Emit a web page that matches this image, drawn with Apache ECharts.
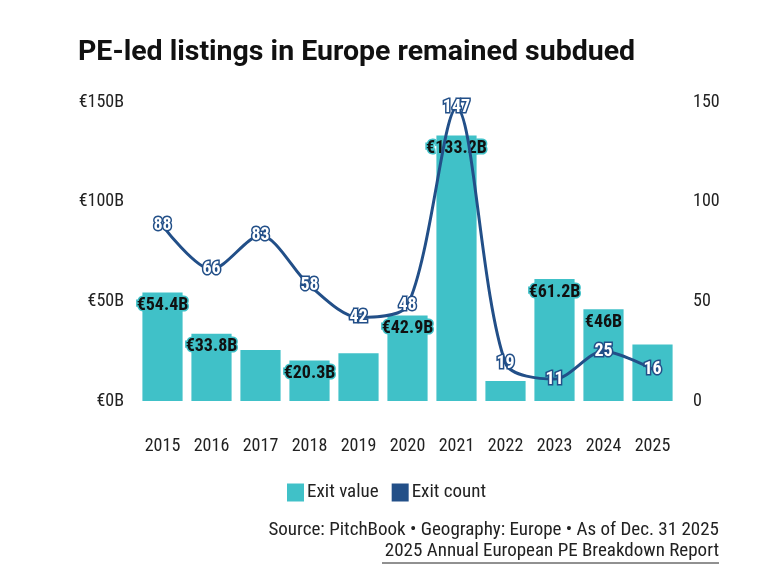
<!DOCTYPE html>
<html><head><meta charset="utf-8">
<script src="https://cdn.jsdelivr.net/npm/echarts@6/dist/echarts.min.js"></script>
<style>html,body{margin:0;padding:0;background:#fff}#c{width:776px;height:586px}</style>
</head><body><div id="c"></div>
<script>
const years = ['2015','2016','2017','2018','2019','2020','2021','2022','2023','2024','2025'];
const exitValue = [54.4, 33.8, 25.6, 20.3, 23.9, 42.9, 133.2, 10.0, 61.2, 46, 28.4];
const exitValueLabels = ['€54.4B','€33.8B','','€20.3B','','€42.9B','€133.2B','','€61.2B','€46B',''];
const exitCount = [88, 66, 83, 58, 42, 48, 147, 19, 11, 25, 16];
const leftTicks = ['€0B','€50B','€100B','€150B'];

const TEAL = '#40c1c8', NAVY = '#224f88';
const FONT = "'Roboto Condensed','Liberation Sans Narrow','DejaVu Sans Condensed',Roboto,sans-serif";
const chart = echarts.init(document.getElementById('c'));
chart.setOption({
  backgroundColor: '#fff',
  animation: false,
  title: {text: 'PE-led listings in Europe remained subdued', left: 73, top: 33,
    textStyle: {fontFamily: 'Roboto', fontWeight: 'bold', fontSize: 28.5, color: '#111'}},
  legend: {bottom: 79, left: 282, itemWidth: 17, itemHeight: 18, itemGap: 13,
    textStyle: {fontFamily: FONT, fontSize: 19, color: '#222', padding: [0,0,0,-2]},
    data: [{name: 'Exit value', icon: 'rect', itemStyle: {color: TEAL}}, {name: 'Exit count', icon: 'rect', itemStyle: {color: NAVY}}]},
  grid: {left: 138, right: 99, top: 102, bottom: 185},
  xAxis: {type: 'category', data: years, axisLine: {show: false}, axisTick: {show: false},
    axisLabel: {fontFamily: FONT, fontSize: 18, color: '#222', margin: 36}},
  yAxis: [
    {type: 'value', min: 0, max: 150, interval: 50, splitLine: {show: false},
      axisLabel: {fontFamily: FONT, fontSize: 18, color: '#222', margin: 14,
        formatter: v => leftTicks[v / 50]}},
    {type: 'value', min: 0, max: 150, interval: 50, splitLine: {show: false},
      axisLabel: {fontFamily: FONT, fontSize: 18, color: '#222', margin: 16}}
  ],
  series: [
    {name: 'Exit value', type: 'bar', yAxisIndex: 0, data: exitValue, barCategoryGap: '18%',
      itemStyle: {color: TEAL},
      label: {show: true, position: 'insideTop', distance: 4, fontFamily: FONT, fontWeight: 'bold', fontSize: 18,
        color: '#111', textBorderColor: TEAL, textBorderWidth: 3,
        formatter: p => exitValueLabels[p.dataIndex]}},
    {name: 'Exit count', type: 'line', yAxisIndex: 1, data: exitCount, smooth: 0.3,
      symbol: 'circle', symbolSize: 2, itemStyle: {color: NAVY}, lineStyle: {color: NAVY, width: 3},
      label: {show: true, position: 'inside', fontFamily: FONT, fontWeight: 'bold', fontSize: 18,
        color: '#fff', textBorderColor: NAVY, textBorderWidth: 3}}
  ],
  graphic: [
    {type: 'text', right: 57, top: 521, style: {text: 'Source: PitchBook • Geography: Europe • As of Dec. 31 2025',
      font: "19px " + FONT, fill: '#222', textAlign: 'right'}},
    {type: 'text', right: 57, top: 542, style: {text: '2025 Annual European PE Breakdown Report',
      font: "19px " + FONT, fill: '#222', textAlign: 'right'}},
    {type: 'line', shape: {x1: 382, y1: 563, x2: 719, y2: 563}, style: {stroke: '#222', lineWidth: 1}}
  ]
});
</script></body></html>
